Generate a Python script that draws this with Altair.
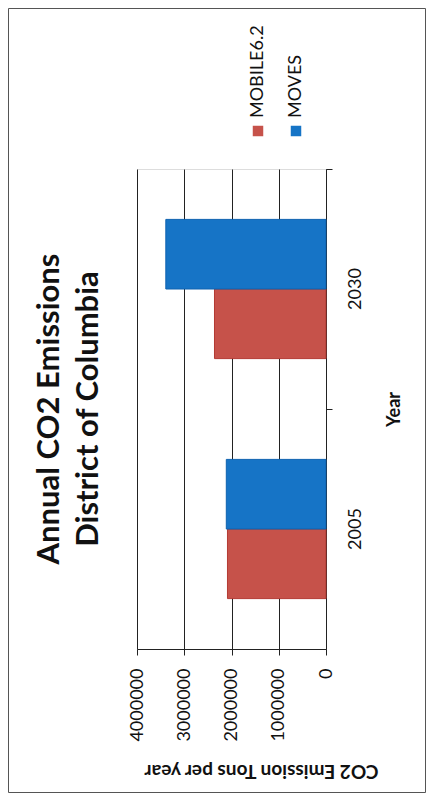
import altair as alt
import pandas as pd

years = ["2005", "2030"]
series = ["MOBILE6.2", "MOVES"]
mobile62 = [2085000, 2360000]
moves = [2110000, 3390000]
x_ticks = [0, 1000000, 2000000, 3000000, 4000000]
colors = ["#C6524A", "#1674C6"]
strokes = ["#B33A33", "#0E62B0"]

rows = []
for i, yr in enumerate(years):
    rows.append({"Year": yr, "Series": series[0], "Value": mobile62[i]})
    rows.append({"Year": yr, "Series": series[1], "Value": moves[i]})
df = pd.DataFrame(rows)

FONT = "Lato"
W, H = 189, 480

yscale = alt.Scale(type="band", domain=years[::-1], paddingInner=0.42, paddingOuter=0.21)

# invisible layer carrying the category tick axis (ticks between categories)
tick_axis = alt.Chart(df).mark_point(opacity=0).encode(
    y=alt.Y("Year:N", scale=yscale, sort=years[::-1],
            axis=alt.Axis(orient="right", labels=False, title=None, ticks=True,
                          tickSize=6, tickColor="#222", domain=True, domainColor="#222",
                          bandPosition=-0.362, grid=False))
)

bars = alt.Chart(df).mark_bar(strokeWidth=1).encode(
    x=alt.X("Value:Q",
            scale=alt.Scale(domain=[0, 4000000], reverse=True, nice=False),
            axis=alt.Axis(values=x_ticks, format="d", labelAngle=270, labelAlign="right",
                          labelBaseline="middle", labelFont=FONT, labelFontSize=18,
                          labelColor="#111", labelPadding=13, tickSize=6, tickColor="#222",
                          domainColor="#222", grid=True, gridColor="#222", gridWidth=1,
                          title="CO2 Emission Tons per year", titleAngle=180,
                          titleFont=FONT, titleFontSize=19, titleFontWeight="bold",
                          titleColor="#111", titleX=124, titleY=121,
                          titleAlign="center", titleBaseline="middle")),
    y=alt.Y("Year:N", scale=yscale, sort=years[::-1],
            axis=alt.Axis(orient="right", ticks=False, domain=False, grid=False,
                          labelAngle=270, labelAlign="center", labelBaseline="top",
                          labelFont=FONT, labelFontSize=18, labelColor="#111",
                          labelPadding=20,
                          title="Year", titleAngle=270, titleFont=FONT, titleFontSize=18,
                          titleFontWeight="bold", titleColor="#111",
                          titleX=68, titleY=240, titleAlign="center",
                          titleBaseline="middle")),
    yOffset=alt.YOffset("Series:N", sort=["MOVES", "MOBILE6.2"],
                        scale=alt.Scale(paddingInner=0.0)),
    color=alt.Color("Series:N", scale=alt.Scale(domain=series, range=colors), legend=None),
    stroke=alt.Stroke("Series:N", scale=alt.Scale(domain=series, range=strokes), legend=None),
)

layers = [tick_axis, bars]

# manual legend (rotated like the rest of the chart)
for i, name in enumerate(series):
    ldf = pd.DataFrame({"Series": [name]})
    sym = alt.Chart(ldf).mark_square(size=110, opacity=1, color=colors[i]).encode(
        x=alt.value(121 + 38 * i), y=alt.value(-38))
    txt = alt.Chart(ldf).mark_text(angle=270, align="left", baseline="middle",
                                   font=FONT, fontSize=18, color="#111").encode(
        text="Series:N", x=alt.value(121 + 38 * i), y=alt.value(-51))
    layers += [sym, txt]

frame = alt.Chart(pd.DataFrame({"f": [0]})).mark_rect(
    fillOpacity=0, stroke="#555", strokeWidth=1).encode(
    x=alt.value(-128.5), x2=alt.value(288.5), y=alt.value(-160.5), y2=alt.value(623.5))
layers.append(frame)

chart = alt.layer(*layers).resolve_axis(y="independent").properties(
    width=W, height=H,
    autosize=alt.AutoSizeParams(type="none"),
    padding={"left": 129, "right": 100, "top": 161, "bottom": 144},
    title=alt.TitleParams(["Annual CO2 Emissions", "District of Columbia"],
                          orient="left", anchor="middle", font=FONT, fontSize=31,
                          fontWeight="bold", color="#111", lineHeight=39, offset=-97),
).configure_view(strokeWidth=0).configure(background="white")

chart.save("out.html", embed_options={"renderer": "svg", "actions": False})
